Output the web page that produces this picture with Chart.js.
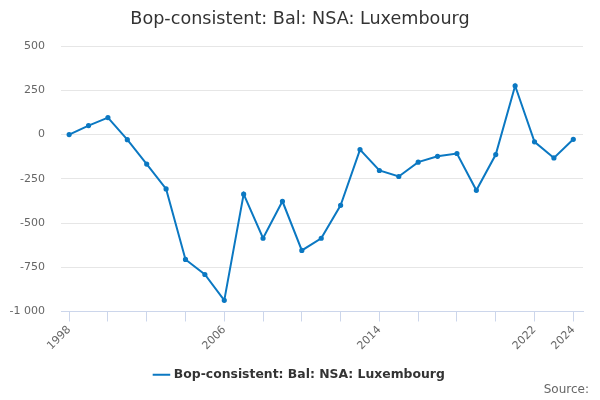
<!DOCTYPE html>
<html>
<head>
<meta charset="utf-8">
<script src="https://cdn.jsdelivr.net/npm/chart.js@4"></script>
<style>
html,body{margin:0;padding:0;background:#fff;}
#wrap{width:600px;height:400px;}
</style>
</head>
<body>
<div id="wrap"><canvas id="c" width="600" height="400"></canvas></div>
<script>
const years = [1998,1999,2000,2001,2002,2003,2004,2005,2006,2007,2008,2009,2010,2011,2012,2013,2014,2015,2016,2017,2018,2019,2020,2021,2022,2023,2024];
const values = [0,51,96,-29,-167,-307,-706,-791,-937,-337,-586,-377,-655,-586,-400,-85,-203,-237,-156,-123,-107,-315,-113,276,-41,-132,-27];
const labelYears = [1998,2006,2014,2022,2024];
const tickYears = [1998,2000,2002,2004,2006,2008,2010,2012,2014,2016,2018,2020,2022,2024];
const yTicks = [-1000,-750,-500,-250,0,250,500];
const seriesName = 'Bop-consistent: Bal: NSA: Luxembourg';
const sourceText = 'Source:';
const FONT = "'DejaVu Sans', sans-serif";

function fmt(v){
  const s = Math.abs(v).toString().replace(/\B(?=(\d{3})+(?!\d))/g,' ');
  return (v<0?'-':'') + s;
}

const sourcePlugin = {
  id: 'sourceText',
  afterDraw(chart) {
    const ctx = chart.ctx;
    ctx.save();
    ctx.font = "12px " + FONT;
    ctx.fillStyle = '#666666';
    ctx.textAlign = 'right';
    ctx.textBaseline = 'middle';
    ctx.fillText(sourceText, chart.width - 11, chart.height - 10);
    ctx.restore();
  }
};

new Chart(document.getElementById('c'), {
  type: 'line',
  data: {
    datasets: [{
      label: seriesName,
      data: years.map((y,i)=>({x:y, y:values[i]})),
      borderColor: '#0b78c2',
      backgroundColor: '#0b78c2',
      borderWidth: 2,
      pointRadius: 1.6,
      pointHoverRadius: 2,
      tension: 0,
      pointStyle: 'circle',
      yAxisID: 'y'
    }]
  },
  plugins: [sourcePlugin],
  options: {
    responsive: false,
    animation: false,
    layout: { padding: { left: 0, right: 0, top: 0, bottom: 9 } },
    plugins: {
      title: {
        display: true,
        text: seriesName,
        color: '#333333',
        font: { family: FONT, size: 17.6, weight: 'normal' },
        padding: { top: 9, bottom: 16 }
      },
      legend: {
        position: 'bottom',
        labels: {
          color: '#333333',
          font: { family: FONT, size: 12.4, weight: 'bold' },
          usePointStyle: true,
          pointStyle: 'line',
          boxWidth: 15,
          padding: 14
        }
      },
      tooltip: { enabled: false }
    },
    scales: {
      x: {
        type: 'linear',
        min: 1997.58,
        max: 2024.5,
        afterBuildTicks: (s) => { s.ticks = tickYears.map(v=>({value:v})); },
        ticks: {
          autoSkip: false,
          maxRotation: 45,
          minRotation: 45,
          color: '#666666',
          font: { family: FONT, size: 11 },
          padding: 2,
          callback: (v) => labelYears.includes(v) ? String(v) : ''
        },
        grid: { drawOnChartArea: false, drawTicks: true, tickLength: 10, color: '#ccd6eb', lineWidth: 1 },
        border: { color: '#ccd6eb', width: 1 }
      },
      y: {
        min: -1000,
        max: 500,
        afterBuildTicks: (s) => { s.ticks = yTicks.map(v=>({value:v})); },
        afterFit: (s) => { s.width = 61; },
        ticks: {
          color: '#666666',
          font: { family: FONT, size: 11 },
          padding: 16,
          callback: (v) => fmt(v)
        },
        grid: { color: '#e6e6e6', lineWidth: 1, drawTicks: false },
        border: { display: false }
      },
      y2: {
        position: 'right',
        min: -1000,
        max: 500,
        afterFit: (s) => { s.width = 17; },
        ticks: { display: false },
        grid: { display: false, drawTicks: false },
        border: { display: false }
      }
    }
  }
});
</script>
</body>
</html>
